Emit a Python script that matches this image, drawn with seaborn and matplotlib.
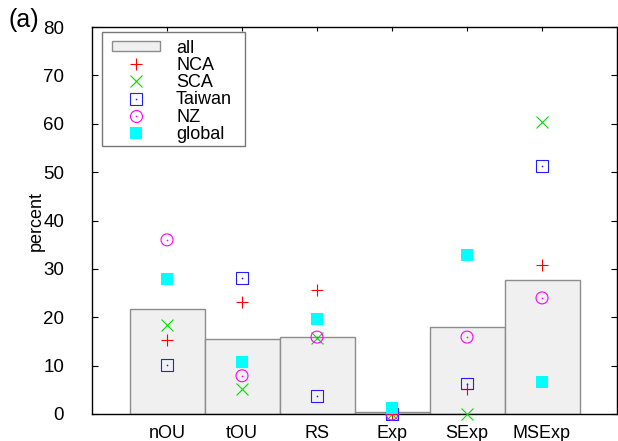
import numpy as np
import pandas as pd
import seaborn as sns
import matplotlib
matplotlib.use("Agg")
import matplotlib.pyplot as plt
from matplotlib.lines import Line2D
from matplotlib.patches import Patch, Rectangle
from matplotlib.markers import MarkerStyle
from matplotlib.legend_handler import HandlerTuple

categories = ["nOU", "tOU", "RS", "Exp", "SExp", "MSExp"]
all_vals = [21.7, 15.5, 15.9, 0.5, 18.0, 27.8]
nca = [15.3, 23.1, 25.6, 0.0, 5.2, 30.8]
sca = [18.3, 5.1, 15.7, 0.0, 0.0, 60.4]
taiwan = [10.2, 28.2, 3.7, 0.0, 6.3, 51.3]
nz = [36.0, 7.9, 15.9, 0.0, 15.9, 24.0]
global_ = [28.0, 10.8, 19.7, 1.3, 32.9, 6.7]
yticks = [0, 10, 20, 30, 40, 50, 60, 70, 80]

sns.set_style("ticks")
plt.rcParams["font.family"] = ["Liberation Sans", "DejaVu Sans"]
plt.rcParams["text.color"] = "black"
plt.rcParams["axes.labelcolor"] = "black"
plt.rcParams["xtick.color"] = "black"
plt.rcParams["ytick.color"] = "black"

fig = plt.figure(figsize=(6.18, 4.41), dpi=100)
ax = fig.add_axes([92 / 618, 1 - 414 / 441, 525 / 618, 387 / 441])

df = pd.DataFrame({"cat": categories, "all": all_vals})
sns.barplot(data=df, x="cat", y="all", color="#f0f0f0", edgecolor="#8c8c8c",
            linewidth=1.0, width=1.0, saturation=1, ax=ax, zorder=1)

pos = np.arange(len(categories))
ms = 8.6
lw = 0.8
series = [
    (nca, "+", "#ff0000", False),
    (sca, "x", "#00e000", False),
    (taiwan, MarkerStyle("s", fillstyle="none"), "#2020ff", True),
    (nz, MarkerStyle("o", fillstyle="none"), "#ff00ff", True),
]
for vals, mk, col, dot in series:
    sns.scatterplot(x=pos, y=vals, marker=mk, color=col, s=ms ** 2,
                    linewidth=lw, ax=ax, clip_on=False, zorder=3, legend=False)
    if dot:
        sns.scatterplot(x=pos, y=vals, marker="o", color=col, s=1.5,
                        linewidth=0, ax=ax, clip_on=False, zorder=3, legend=False)
sns.scatterplot(x=pos, y=global_, marker="s", color="#00ffff", s=ms ** 2,
                linewidth=0, ax=ax, clip_on=False, zorder=4, legend=False)

ax.set_xlim(-1, 6)
ax.set_ylim(0, 80)
ax.set_yticks(yticks)
ax.set_xticks(pos)
ax.set_xticklabels(categories)
ax.set_xlabel("")
ax.set_ylabel("percent", fontsize=13, color="black")
ax.yaxis.set_label_coords(-0.09, 0.5)
ax.set_axisbelow(True)
for s in ax.spines.values():
    s.set_visible(True)
    s.set_color("black")
    s.set_linewidth(1.0)
ax.tick_params(axis="y", direction="in", length=4, width=0.8, labelsize=13.5,
               pad=20, right=True, left=True, labelcolor="black")
ax.tick_params(axis="x", direction="in", length=3, width=0.8, labelsize=13,
               pad=8, top=True, bottom=True, labelcolor="black")

# legend frame (drawn separately to match the reference box exactly)
ax.add_patch(Rectangle((10 / 525, (414 - 146) / 387), 143 / 525, 114 / 387,
                       transform=ax.transAxes, facecolor="white", edgecolor="#777777",
                       linewidth=1.0, zorder=4.5, clip_on=False))

handles = [
    Patch(facecolor="#f0f0f0", edgecolor="#8c8c8c", linewidth=1.0),
    Line2D([], [], ls="none", marker="+", color="#ff0000", markersize=ms, markeredgewidth=lw),
    Line2D([], [], ls="none", marker="x", color="#00e000", markersize=ms, markeredgewidth=lw),
    (Line2D([], [], ls="none", marker="s", mfc="none", mec="#2020ff", markersize=ms, markeredgewidth=lw),
     Line2D([], [], ls="none", marker="o", color="#2020ff", markersize=1.2, markeredgewidth=0)),
    (Line2D([], [], ls="none", marker="o", mfc="none", mec="#ff00ff", markersize=ms, markeredgewidth=lw),
     Line2D([], [], ls="none", marker="o", color="#ff00ff", markersize=1.2, markeredgewidth=0)),
    Line2D([], [], ls="none", marker="s", color="#00ffff", markersize=ms, markeredgewidth=0),
]
labels = ["all", "NCA", "SCA", "Taiwan", "NZ", "global"]
leg = ax.legend(handles, labels, loc="upper left",
                bbox_to_anchor=(20 / 525, (414 - 39.5) / 387),
                borderaxespad=0, fontsize=13, handlelength=2.66, handleheight=0.45,
                handletextpad=0.886, labelspacing=0.015, borderpad=0,
                frameon=False,
                handler_map={tuple: HandlerTuple(ndivide=1, pad=0)})
leg.set_zorder(5)

fig.text(8 / 618, 1 - 20 / 441, "(a)", fontsize=18, va="center", ha="left")

fig.savefig("out.png", dpi=100)
